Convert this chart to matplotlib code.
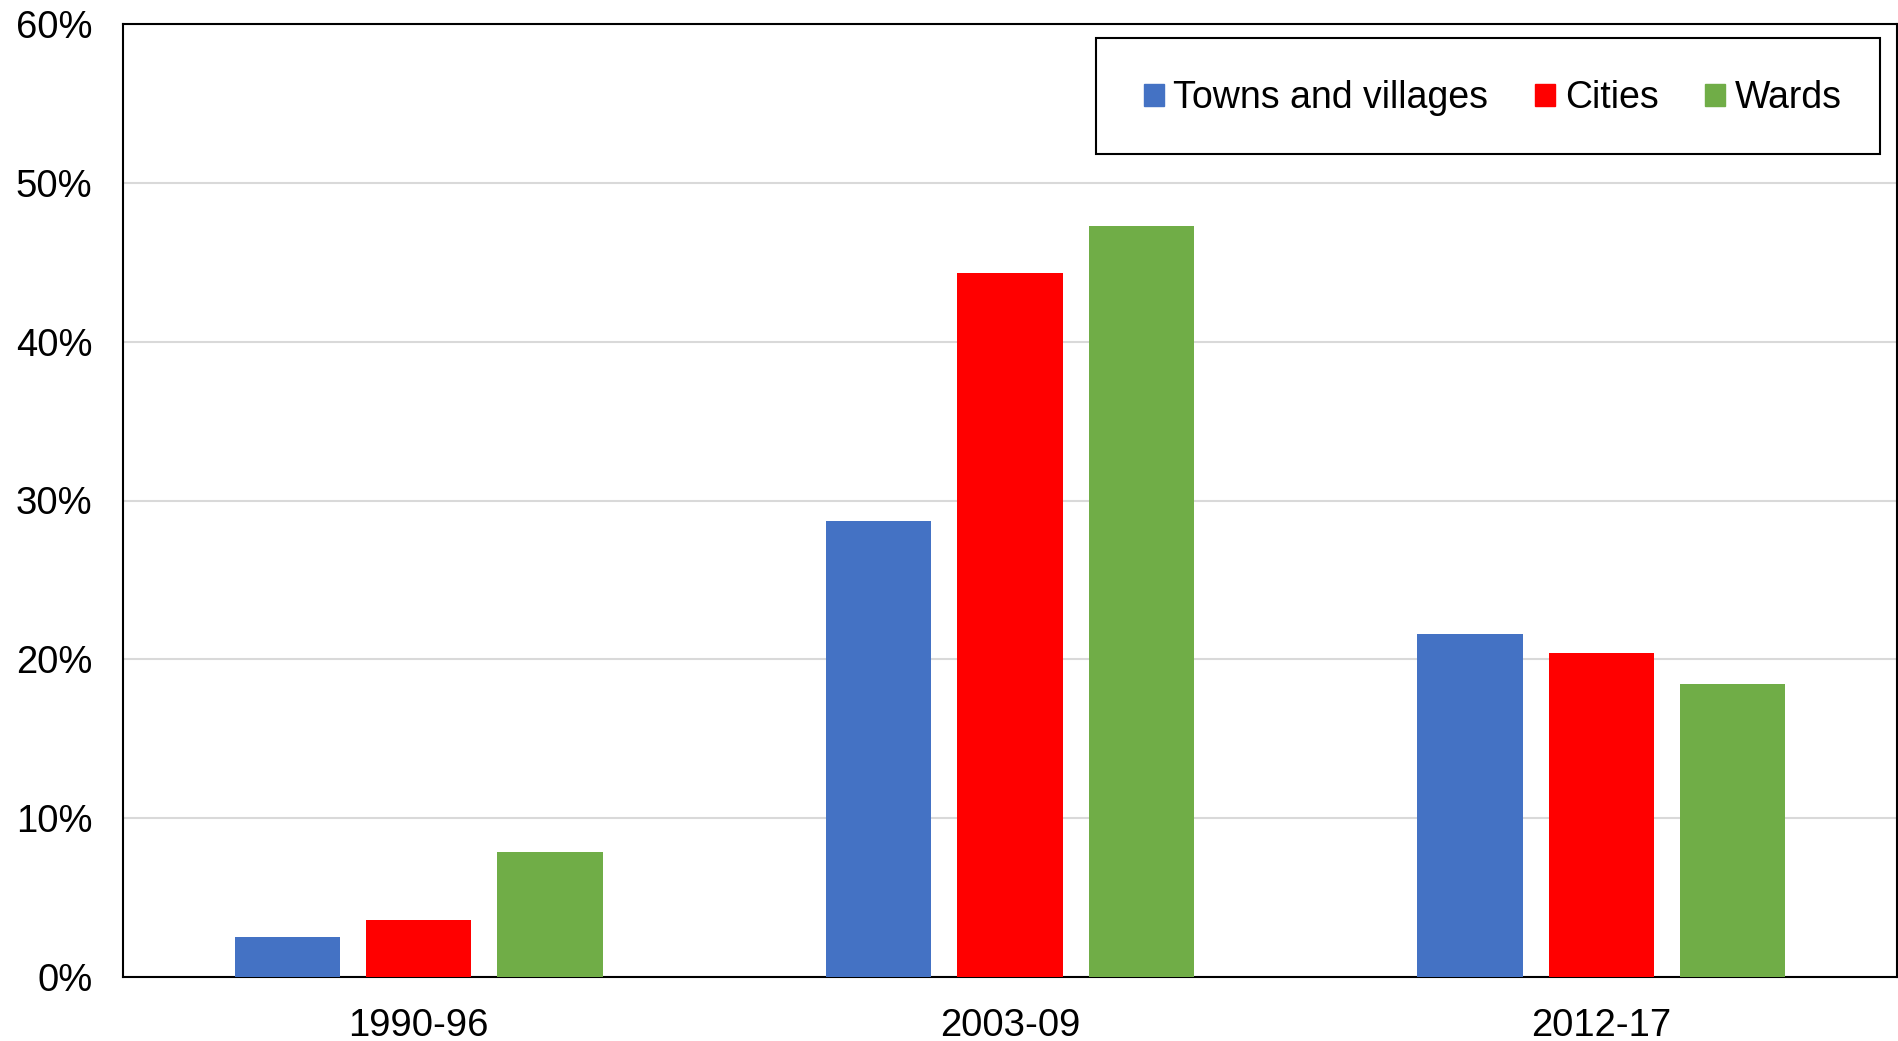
import matplotlib.pyplot as plt
from matplotlib.patches import Patch, Rectangle
from matplotlib.ticker import PercentFormatter
import numpy as np

plt.rcParams['font.family'] = ['Liberation Sans', 'DejaVu Sans']

periods = ['1990-96', '2003-09', '2012-17']
towns = [2.5, 28.7, 21.6]
cities = [3.6, 44.35, 20.4]
wards = [7.9, 47.3, 18.45]

series = [('Towns and villages', towns, '#4472C4'),
          ('Cities', cities, '#FF0000'),
          ('Wards', wards, '#70AD47')]

fig = plt.figure(figsize=(18.99, 10.41), dpi=100)
ax = fig.add_axes([123 / 1899, 1 - 977 / 1041, 1774 / 1899, 953 / 1041])

x = np.arange(len(periods))
width = 0.178
offset = 0.222
for i, (name, vals, color) in enumerate(series):
    ax.bar(x + (i - 1) * offset, vals, width, color=color, label=name, zorder=3)

ax.set_xlim(-0.5, 2.5)
ax.set_ylim(0, 60)
ax.set_yticks(range(0, 61, 10))
ax.yaxis.set_major_formatter(PercentFormatter(decimals=0))
ax.set_xticks(x)
ax.set_xticklabels(periods)
ax.tick_params(axis='both', length=0, labelsize=27.5)
ax.tick_params(axis='y', pad=22)
ax.tick_params(axis='x', pad=22)
ax.grid(axis='y', color='#d9d9d9', linewidth=1.5, zorder=0)
for sp in ax.spines.values():
    sp.set_color('black')
    sp.set_linewidth(1.5)

# legend frame drawn separately so its size matches the original
fig.patches.append(Rectangle((1096 / 1899, 1 - 154 / 1041), 784 / 1899, 116 / 1041,
                             transform=fig.transFigure, fill=True, facecolor='white',
                             edgecolor='black', linewidth=1.5, zorder=5))
handles = [Patch(color=c, label=n) for n, _, c in series]
leg = fig.legend(handles=handles, loc='center left', ncol=3, frameon=False,
                 bbox_to_anchor=(1125 / 1899, 1 - 98.5 / 1041), borderpad=0,
                 fontsize=27, handlelength=0.53, handleheight=0.53,
                 handletextpad=0.26, columnspacing=1.25)
leg.set_zorder(6)

fig.savefig('out.png', dpi=100)
